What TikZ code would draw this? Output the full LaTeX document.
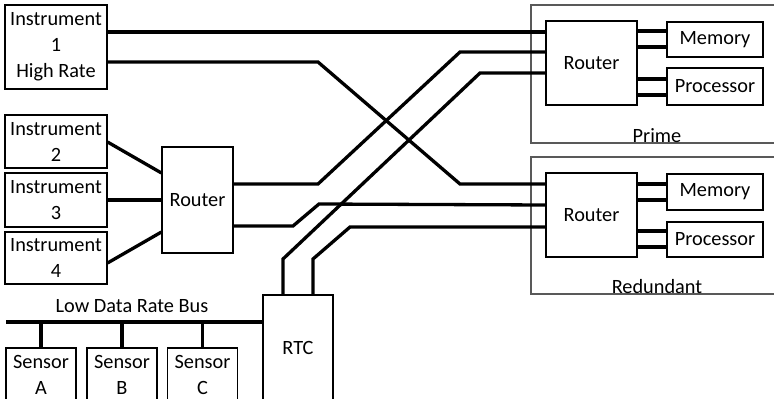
\documentclass[tikz,border=0pt]{standalone}
\usepackage{fontspec}
\setmainfont{Carlito}
\usepackage{tikz}
\usetikzlibrary{positioning}

\begin{document}
\begin{tikzpicture}[
    x=1pt, y=-1pt,
    box/.style={rectangle, draw, line width=1.1pt, inner sep=0pt, align=center, font=\fontsize{20.3}{26}\selectfont},
    frame/.style={rectangle, draw=black!65, line width=1.1pt, inner sep=0pt},
    lbl/.style={inner sep=0pt, anchor=base, font=\fontsize{20.3}{26}\selectfont},
    link/.style={line width=3.3pt, line join=miter}
]
    \useasboundingbox (0,0) rectangle (774,399);

    \node[frame, minimum width=250pt, minimum height=138pt] (prime) at (656,74) {};
    \node[frame, minimum width=250pt, minimum height=137pt] (red) at (656,225.5) {};
    \node[lbl] (primelbl) at (657,142) {Prime};
    \node[lbl] (redlbl) at (657,293) {Redundant};

    \node[box, minimum width=102pt, minimum height=84pt] (inst1) at (56,47) {Instrument\\1\\High Rate};
    \node[box, minimum width=102pt, minimum height=53pt] (inst2) at (56,141.5) {Instrument\\2};
    \node[box, minimum width=102pt, minimum height=54pt] (inst3) at (56,200) {Instrument\\3};
    \node[box, minimum width=102pt, minimum height=52pt] (inst4) at (56,258) {Instrument\\4};
    \node[box, minimum width=71pt, minimum height=106pt] (rtr) at (197.5,200) {Router};

    \node[box, minimum width=91pt, minimum height=84pt] (primeR) at (591.5,63) {Router};
    \node[box, minimum width=96pt, minimum height=35pt] (primeM) at (715,39.5) {Memory};
    \node[box, minimum width=96pt, minimum height=37pt] (primeP) at (715,86.5) {Processor};
    \node[box, minimum width=91pt, minimum height=84pt] (redR) at (591.5,215) {Router};
    \node[box, minimum width=96pt, minimum height=36pt] (redM) at (715,192) {Memory};
    \node[box, minimum width=96pt, minimum height=35pt] (redP) at (715,239.5) {Processor};

    \node[box, minimum width=70pt, minimum height=106pt] (rtc) at (298,348) {RTC};
    \node[box, minimum width=70pt, minimum height=54pt] (sensA) at (41,375) {Sensor\\A};
    \node[box, minimum width=70pt, minimum height=54pt] (sensB) at (122,375) {Sensor\\B};
    \node[box, minimum width=70pt, minimum height=54pt] (sensC) at (202.5,375) {Sensor\\C};
    \node[lbl] (buslbl) at (132,312) {Low Data Rate Bus};
    \coordinate (busL) at (6,322);

    \draw[link] (inst2.east |- 0,142) -- (rtr.west |- 0,173);
    \draw[link] (inst3.east |- 0,200) -- (rtr.west |- 0,200);
    \draw[link] (inst4.east |- 0,263) -- (rtr.west |- 0,232);

    \draw[link] (inst1.east |- 0,32) -- (primeR.west |- 0,32);
    \draw[link] (inst1.east |- 0,62) -- (318,62) -- (460,184) -- (redR.west |- 0,184);
    \draw[link] (rtr.east |- 0,184) -- (318,184) -- (460,52) -- (primeR.west |- 0,52);
    \draw[link] (rtr.east |- 0,226) -- (293,226) -- (319,204) -- (redR.west |- 0,205);
    \draw[link] (rtc.north -| 283,0) -- (283,259) -- (480,73) -- (primeR.west |- 0,73);
    \draw[link] (rtc.north -| 313,0) -- (313,259) -- (350,227) -- (redR.west |- 0,227);

    \draw[link] (primeR.east |- 0,31) -- (primeM.west |- 0,31);
    \draw[link] (primeR.east |- 0,47) -- (primeM.west |- 0,47);
    \draw[link] (primeR.east |- 0,79) -- (primeP.west |- 0,79);
    \draw[link] (primeR.east |- 0,95) -- (primeP.west |- 0,95);
    \draw[link] (redR.east |- 0,184) -- (redM.west |- 0,184);
    \draw[link] (redR.east |- 0,200) -- (redM.west |- 0,200);
    \draw[link] (redR.east |- 0,231) -- (redP.west |- 0,231);
    \draw[link] (redR.east |- 0,247) -- (redP.west |- 0,247);

    \draw[link] (busL) -- (rtc.west |- busL);
    \draw[link] (sensA.north) -- (sensA.north |- busL);
    \draw[link] (sensB.north) -- (sensB.north |- busL);
    \draw[link] (sensC.north) -- (sensC.north |- busL);
\end{tikzpicture}
\end{document}
